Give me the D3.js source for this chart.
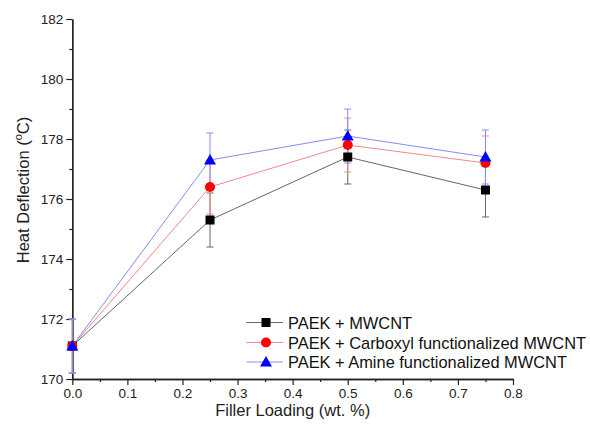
<!DOCTYPE html>
<html><head><meta charset="utf-8">
<script src="https://cdn.jsdelivr.net/npm/d3@7"></script>
<style>body{margin:0;background:#fff}svg{display:block;font-family:"Liberation Sans",Arial,sans-serif}</style>
</head><body><svg id="c" width="590" height="430"></svg>
<script>
const loading = [0, 0.25, 0.5, 0.75];
const seriesNames = ["PAEK + MWCNT", "PAEK + Carboxyl functionalized MWCNT", "PAEK + Amine functionalized MWCNT"];
const mwcnt = [171.1, 175.3, 177.4, 176.3];
const carboxyl = [171.1, 176.4, 177.8, 177.2];
const amine = [171.1, 177.3, 178.1, 177.4];
const errMwcnt = [0.9, 0.9, 0.9, 0.9];
const errCarboxyl = [0.9, 0.9, 0.9, 0.9];
const errAmine = [0.9, 0.9, 0.9, 0.9];
const xTicks = [0, 0.1, 0.2, 0.3, 0.4, 0.5, 0.6, 0.7, 0.8];
const yTicks = [170, 172, 174, 176, 178, 180, 182];

const svg = d3.select("#c");
const x = d3.scaleLinear().domain([0, 0.8]).range([72.3, 513]);
const y = d3.scaleLinear().domain([170, 182]).range([379, 19]);

const series = [
  {name: seriesNames[0], vals: mwcnt, err: errMwcnt, color: "#000000", line: "#666666", shape: "square"},
  {name: seriesNames[1], vals: carboxyl, err: errCarboxyl, color: "#ff0000", line: "#f08a8a", shape: "circle"},
  {name: seriesNames[2], vals: amine, err: errAmine, color: "#0000ff", line: "#8a8af0", shape: "triangle"}
];

function marker(g, shape, color, cx, cy) {
  if (shape === "square") g.append("rect").attr("x", cx-4.5).attr("y", cy-4.5).attr("width", 9).attr("height", 9).attr("fill", color);
  else if (shape === "circle") g.append("circle").attr("cx", cx).attr("cy", cy).attr("r", 5).attr("fill", color);
  else g.append("path").attr("d", `M${cx},${cy-6}L${cx+6},${cy+4.5}L${cx-6},${cy+4.5}Z`).attr("fill", color);
}

// axes
const xAxis = d3.axisBottom(x).tickValues(xTicks).tickFormat(d3.format(".1f")).tickSize(6).tickSizeOuter(0);
const xMinor = d3.axisBottom(x).tickValues(d3.range(0.05, 0.8, 0.1)).tickFormat("").tickSize(3).tickSizeOuter(0);
const yAxis = d3.axisLeft(y).tickValues(yTicks).tickFormat(d3.format("d")).tickSize(6).tickSizeOuter(0);
const yMinor = d3.axisLeft(y).tickValues(d3.range(171, 182, 2)).tickFormat("").tickSize(3).tickSizeOuter(0);

const gx = svg.append("g").attr("transform", `translate(0,${y(170)})`);
gx.call(xAxis);
svg.append("g").attr("transform", `translate(0,${y(170)})`).call(xMinor);
const gy = svg.append("g").attr("transform", `translate(${x(0)},0)`);
gy.call(yAxis);
svg.append("g").attr("transform", `translate(${x(0)},0)`).call(yMinor);
svg.selectAll(".domain").attr("stroke", "#222").attr("stroke-width", 1.3);
svg.selectAll(".tick line").attr("stroke", "#222").attr("stroke-width", 1.2);
svg.selectAll(".tick text").attr("font-size", 13.5).attr("fill", "#222").attr("font-family", "Liberation Sans, Arial, sans-serif");

// labels
svg.append("text").attr("x", (x(0)+x(0.8))/2).attr("y", 416).attr("text-anchor", "middle")
  .attr("font-size", 16.5).attr("fill", "#222").text("Filler Loading (wt. %)");
const yl = svg.append("text").attr("transform", `translate(29,190) rotate(-90)`)
  .attr("text-anchor", "middle").attr("font-size", 16.5).attr("fill", "#222");
yl.append("tspan").text("Heat Deflection (");
yl.append("tspan").attr("font-size", 11).attr("dy", -7).text("o");
yl.append("tspan").attr("dy", 7).text("C)");

// series
const line = d3.line().x((d,i) => x(loading[i])).y(d => y(d));
series.forEach(s => {
  const g = svg.append("g");
  g.append("path").datum(s.vals).attr("d", line).attr("fill", "none").attr("stroke", s.line).attr("stroke-width", 1);
  s.vals.forEach((v, i) => {
    const cx = x(loading[i]);
    g.append("line").attr("x1", cx).attr("x2", cx).attr("y1", y(v - s.err[i])).attr("y2", y(v + s.err[i])).attr("stroke", s.line).attr("stroke-width", 1);
    [v - s.err[i], v + s.err[i]].forEach(e => g.append("line").attr("x1", cx-3.5).attr("x2", cx+3.5).attr("y1", y(e)).attr("y2", y(e)).attr("stroke", s.line).attr("stroke-width", 1));
  });
});
series.forEach(s => {
  const g = svg.append("g");
  s.vals.forEach((v, i) => marker(g, s.shape, s.color, x(loading[i]), y(v)));
});

// legend
const legY = [322.5, 342.5, 362];
series.forEach((s, i) => {
  const g = svg.append("g");
  g.append("line").attr("x1", 246.5).attr("x2", 283).attr("y1", legY[i]).attr("y2", legY[i]).attr("stroke", s.line).attr("stroke-width", 1);
  marker(g, s.shape, s.color, 266, legY[i]);
  g.append("text").attr("x", 288).attr("y", legY[i] + 6).attr("font-size", 16.4).attr("fill", "#111").text(s.name);
});
</script></body></html>
